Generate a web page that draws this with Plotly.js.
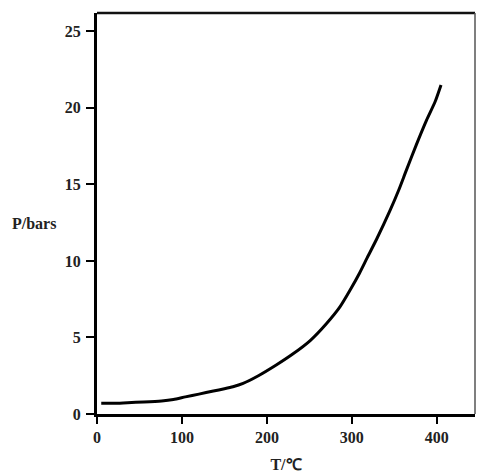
<!DOCTYPE html>
<html>
<head>
<meta charset="utf-8">
<script src="https://cdn.plot.ly/plotly-3.0.1.min.js"></script>
<style>html,body{margin:0;padding:0;background:#fff;}#chart{width:477px;height:474px;}</style>
</head>
<body>
<div id="chart"></div>
<script>
// Temperature (°C) and pressure (bars)
var temperature = [5, 20, 36, 55, 76, 90, 104, 120, 137, 150, 160, 172, 190, 211, 230, 251, 270, 286, 298, 309, 318, 329, 345, 355, 364, 376, 388, 398, 405];
var pressure    = [0.70, 0.70, 0.74, 0.78, 0.85, 0.95, 1.12, 1.30, 1.50, 1.65, 1.78, 2.0, 2.5, 3.2, 3.9, 4.8, 5.9, 7.0, 8.1, 9.2, 10.2, 11.4, 13.3, 14.6, 15.9, 17.6, 19.2, 20.4, 21.5];
var xTicks = [0, 100, 200, 300, 400];
var yTicks = [0, 5, 10, 15, 20, 25];
var xTitle = "T/℃";
var yTitle = "P/bars";

var font = {family: "Liberation Serif", size: 16, color: "#222", weight: 700};

var trace = {
  x: temperature, y: pressure, type: "scatter", mode: "lines",
  line: {color: "#000", width: 3, shape: "spline", smoothing: 0.6},
  hoverinfo: "skip"
};

var layout = {
  width: 477, height: 474,
  margin: {l: 97, r: 2, t: 13, b: 60},
  paper_bgcolor: "#fff", plot_bgcolor: "#fff",
  showlegend: false,
  font: font,
  xaxis: {
    range: [0, 445], tickvals: xTicks, ticks: "outside", ticklen: 7, tickwidth: 2, tickcolor: "#000",
    showline: true, linecolor: "#000", linewidth: 3, showgrid: false, zeroline: false,
    tickfont: font, title: {text: xTitle, font: font, standoff: 14}
  },
  yaxis: {
    range: [0, 26.2], tickvals: yTicks, ticks: "outside", ticklen: 8, tickwidth: 2, tickcolor: "#000",
    showline: true, linecolor: "#000", linewidth: 3, showgrid: false, zeroline: false,
    tickfont: font, ticklabelstandoff: 2
  },
  shapes: [
    {type: "line", xref: "paper", yref: "paper", x0: 0, x1: 1, y0: 1, y1: 1, line: {color: "#111", width: 2.5}},
    {type: "line", xref: "paper", yref: "paper", x0: 1, x1: 1, y0: 0, y1: 1, line: {color: "#555", width: 1.5}}
  ],
  annotations: [
    {text: yTitle, xref: "paper", yref: "paper", x: -0.23, y: 0.476, xanchor: "left", yanchor: "middle", showarrow: false, font: font}
  ]
};

Plotly.newPlot("chart", [trace], layout, {displayModeBar: false, staticPlot: true});
</script>
</body>
</html>
